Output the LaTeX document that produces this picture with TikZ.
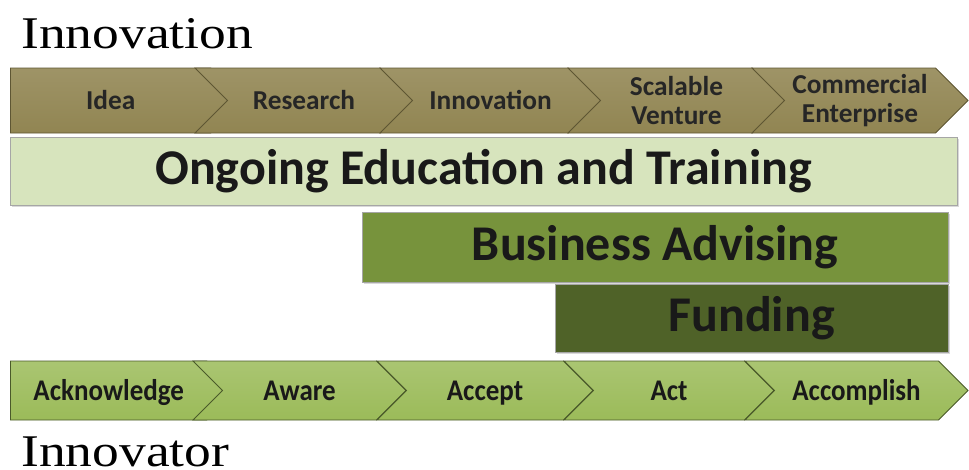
\documentclass[tikz,border=0pt]{standalone}
\usepackage{fontspec}
\setmainfont{Carlito}
\newfontfamily\titlefont[FakeStretch=1.18]{Liberation Serif}
\newfontfamily\narrowfont[FakeStretch=0.9]{Carlito}
\usetikzlibrary{shapes.symbols,shadows,positioning}

\definecolor{tanchev}{HTML}{918552}
\definecolor{tanedge}{HTML}{5E5633}
\definecolor{palegreen}{HTML}{D7E4BD}
\definecolor{midgreen}{HTML}{77933C}
\definecolor{darkgreen}{HTML}{4F6228}
\definecolor{olivechev}{HTML}{9BBB59}
\definecolor{oliveedge}{HTML}{4A5A2A}

\begin{document}
\begin{tikzpicture}[
    x=0.75pt, y=-0.75pt,
    title/.style={font=\titlefont\fontsize{34}{36}\selectfont, inner sep=0pt, anchor=base west},
    topchev/.style={signal, signal to=east, signal from=west, signal pointer angle=90,
        draw=tanedge, line width=0.6pt, top color=tanchev!88!white, bottom color=tanchev,
        minimum height=65*0.75pt, inner sep=0pt, align=center,
        font=\bfseries\fontsize{20.5}{21.8}\selectfont, text=black!85},
    lowchev/.style={signal, signal to=east, signal from=west, signal pointer angle=90,
        draw=oliveedge, line width=0.6pt, top color=olivechev!85!white, bottom color=olivechev,
        minimum height=59*0.75pt, inner sep=0pt, text height=14.5pt, text depth=0pt,
        font=\narrowfont\bfseries\fontsize{22.5}{24}\selectfont, text=black!90},
    firstchev/.style={signal from=nowhere, anchor=west},
    oneline/.style={text height=13.2pt, text depth=0pt},
    twoline/.style={},
    bar/.style={rectangle, draw=gray!70, line width=0.5pt, inner sep=0pt,
        drop shadow={opacity=0.3, shadow xshift=1.2pt, shadow yshift=-1.2pt},
        font=\bfseries\fontsize{37.5}{40}\selectfont, text=black!90}
]
    \useasboundingbox (0,0) rectangle (969,469);

    % Titles
    \node[title] (innovation) at (21,48) {Innovation};
    \node[title] (innovator) at (21,466) {Innovator};

    % Innovation stages (top chevrons)
    \node[topchev, oneline, firstchev, minimum width={233*0.75pt}] (idea) at (10,100.5) {Idea};
    \foreach \name/\lft/\rgt/\sty/\txt in {research/195/380/oneline/Research,
        innov/380/568/oneline/Innovation, scalable/568/752/twoline/{Scalable\\Venture},
        commercial/752/935/twoline/{Commercial\\Enterprise}} {
        \node[topchev, \sty, minimum width={(\rgt+33-\lft)*0.75pt}] (\name)
            at ({(\lft+\rgt+33)/2},100.5) {\txt};
    }

    % Support bars
    \node[bar, fill=palegreen, minimum width=947*0.75pt, minimum height=68*0.75pt]
        (education) at (483.5,171) {Ongoing Education and Training};
    \node[bar, fill=midgreen, minimum width=586*0.75pt, minimum height=70*0.75pt]
        (advising) at (655,247) {Business Advising};
    \node[bar, fill=darkgreen, minimum width=393*0.75pt, minimum height=68*0.75pt, anchor=north east]
        (funding) at ([yshift=-1.5pt]advising.south east) {Funding};

    % Innovator stages (bottom chevrons)
    \node[lowchev, firstchev, minimum width={226*0.75pt}] (acknowledge) at (10,390.5) {Acknowledge};
    \foreach \name/\lft/\rgt/\txt in {aware/193/377/Aware, accept/377/564/Accept,
        act/564/745/Act, accomplish/745/939/Accomplish} {
        \node[lowchev, minimum width={(\rgt+29-\lft)*0.75pt}] (\name)
            at ({(\lft+\rgt+29)/2},390.5) {\txt};
    }

\end{tikzpicture}
\end{document}
